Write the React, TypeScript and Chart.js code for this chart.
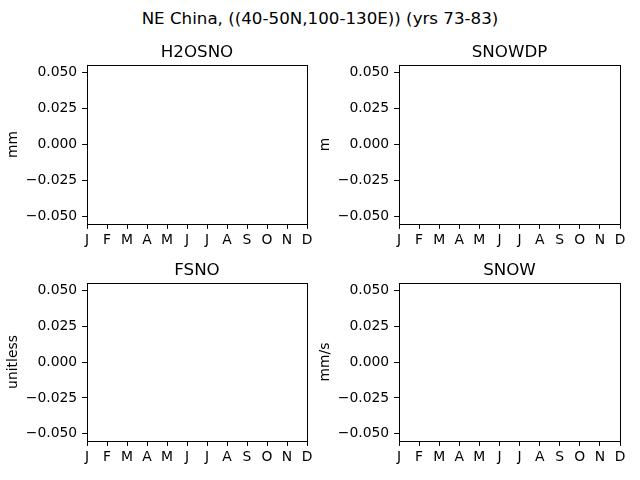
import { useEffect, useRef } from "react"
import { Chart, registerables } from "chart.js"

Chart.register(...registerables)

Chart.defaults.font.family = "DejaVu Sans"
Chart.defaults.color = "#000"

// Data
const suptitle = "NE China, ((40-50N,100-130E)) (yrs 73-83)"
const months = ["J", "F", "M", "A", "M", "J", "J", "A", "S", "O", "N", "D"]
const yTicks = [-0.05, -0.025, 0, 0.025, 0.05]
const yMin = -0.055
const yMax = 0.055

const panelTitles = ["H2OSNO", "SNOWDP", "FSNO", "SNOW"]
const panelUnits = ["mm", "m", "unitless", "mm/s"]

// no valid values in the selected region / years
const h2osnoValues = [null, null, null, null, null, null, null, null, null, null, null, null]
const snowdpValues = [null, null, null, null, null, null, null, null, null, null, null, null]
const fsnoValues = [null, null, null, null, null, null, null, null, null, null, null, null]
const snowValues = [null, null, null, null, null, null, null, null, null, null, null, null]

const panelValues = [h2osnoValues, snowdpValues, fsnoValues, snowValues]

// Layout (axes boxes in page pixels)
const axesBoxes = [
  { left: 87, right: 307, top: 65, bottom: 224 },
  { left: 399, right: 620, top: 65, bottom: 224 },
  { left: 87, right: 307, top: 283, bottom: 441 },
  { left: 399, right: 620, top: 283, bottom: 441 },
]

const TICK_FONT = 13.9
const TITLE_FONT = 16.7
const TICK_LEN = 4.9
const Y_AXIS_W = 87
const TITLE_H = 36
const X_AXIS_H = 30
const PAD_RIGHT = 14

// draws the four spines round the plot area
const framePlugin = {
  id: "frame",
  afterDraw(chart: Chart) {
    const { ctx, chartArea } = chart
    ctx.save()
    ctx.strokeStyle = "#000"
    ctx.lineWidth = 1
    ctx.strokeRect(
      chartArea.left + 0.5,
      chartArea.top + 0.5,
      chartArea.right - chartArea.left,
      chartArea.bottom - chartArea.top
    )
    ctx.restore()
  },
}

interface PanelProps {
  title: string
  unit: string
  values: (number | null)[]
  box: { left: number; right: number; top: number; bottom: number }
}

function Panel({ title, unit, values, box }: PanelProps) {
  const chartRef = useRef<HTMLCanvasElement>(null)

  useEffect(() => {
    if (!chartRef.current) return
    const ctx = chartRef.current.getContext("2d")
    if (!ctx) return

    const chart = new Chart(ctx, {
      type: "line",
      data: {
        labels: months,
        datasets: [
          {
            label: title,
            data: values,
            borderColor: "#1f77b4",
            borderWidth: 1.5,
            pointRadius: 0,
          },
        ],
      },
      options: {
        animation: false,
        responsive: true,
        maintainAspectRatio: false,
        layout: { padding: { left: 0, right: PAD_RIGHT, top: 0, bottom: 0 } },
        plugins: {
          legend: { display: false },
          tooltip: { enabled: false },
          title: {
            display: true,
            fullSize: false,
            text: title,
            color: "#000",
            font: { size: TITLE_FONT, weight: "normal", lineHeight: 1.2 },
            padding: { top: 13.2, bottom: 36 - 13.2 - TITLE_FONT * 1.2 },
          },
        },
        scales: {
          x: {
            type: "category",
            offset: false,
            border: { display: false },
            grid: {
              display: true,
              drawOnChartArea: false,
              drawTicks: true,
              tickLength: TICK_LEN,
              color: "#000",
            },
            ticks: {
              autoSkip: false,
              maxRotation: 0,
              padding: 3.4,
              font: { size: TICK_FONT },
              color: "#000",
            },
            afterFit: (scale) => {
              scale.height = X_AXIS_H
            },
          },
          y: {
            min: yMin,
            max: yMax,
            border: { display: false },
            grid: {
              display: true,
              drawOnChartArea: false,
              drawTicks: true,
              tickLength: TICK_LEN,
              color: "#000",
            },
            ticks: {
              padding: TICK_LEN,
              font: { size: TICK_FONT },
              color: "#000",
              callback: (v) => Number(v).toFixed(3).replace("-", "\u2212"),
            },
            afterBuildTicks: (scale) => {
              scale.ticks = yTicks.map((v) => ({ value: v }))
            },
            title: {
              display: true,
              text: unit,
              color: "#000",
              font: { size: TICK_FONT, lineHeight: 1.2 },
              padding: { top: 4.7, bottom: 0 },
            },
            afterFit: (scale) => {
              scale.width = Y_AXIS_W
            },
          },
        },
      },
      plugins: [framePlugin],
    })

    return () => {
      chart.destroy()
    }
  }, [title, unit, values])

  const left = box.left - Y_AXIS_W
  const top = box.top - TITLE_H
  const width = box.right - box.left + Y_AXIS_W + PAD_RIGHT
  const height = box.bottom - box.top + TITLE_H + X_AXIS_H

  return (
    <div style={{ position: "absolute", left, top, width, height }}>
      <canvas ref={chartRef} />
    </div>
  )
}

export default function App() {
  return (
    <div
      style={{
        position: "fixed",
        left: 0,
        top: 0,
        width: 640,
        height: 480,
        background: "#fff",
        overflow: "hidden",
      }}
    >
      <div
        style={{
          position: "absolute",
          left: 0,
          top: 8,
          width: 640,
          textAlign: "center",
          fontFamily: "DejaVu Sans",
          fontSize: TITLE_FONT,
          lineHeight: "20px",
          color: "#000",
          whiteSpace: "nowrap",
        }}
      >
        {suptitle}
      </div>
      {panelTitles.map((t, i) => (
        <Panel key={i} title={t} unit={panelUnits[i]} values={panelValues[i]} box={axesBoxes[i]} />
      ))}
    </div>
  )
}
